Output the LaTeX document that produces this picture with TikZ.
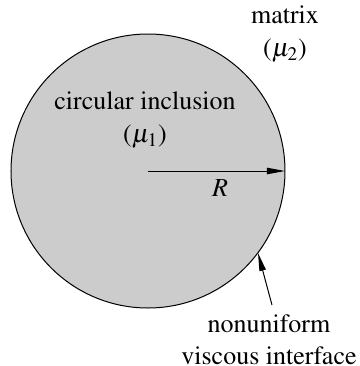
\documentclass[tikz,border=0pt]{standalone}
\usepackage[T1]{fontenc}
\usepackage{mathptmx}
\usetikzlibrary{arrows.meta}
\begin{document}
\begin{tikzpicture}[x=0.5pt,y=-0.5pt,
  lbl/.style={inner sep=0pt,align=center,font=\fontsize{13}{16.2}\selectfont},
  arr/.style={line width=0.5pt,-{Triangle[length=9pt,width=3.2pt]}}]
\useasboundingbox (0,0) rectangle (360,366);
\fill[fill={rgb,255:red,204;green,204;blue,204}] (148,171) circle[radius=137];
\draw[line width=0.5pt] (148,171) circle[radius=137];
\coordinate (c) at (148,171);
\coordinate (e) at (285,171);
\coordinate (tip) at (258,253);
\coordinate (tail) at (272,305);
\draw[arr] (c) -- (e);
\draw[arr] (tail) -- (tip);
\node[lbl] (incl) at (145,120) {circular inclusion\\($\mu_1$)};
\node[lbl] (mat) at (285,34) {matrix\\($\mu_2$)};
\node[lbl] (R) at (220,188) {$R$};
\node[lbl] (visc) at (269,340) {nonuniform\\viscous interface};
\end{tikzpicture}
\end{document}
